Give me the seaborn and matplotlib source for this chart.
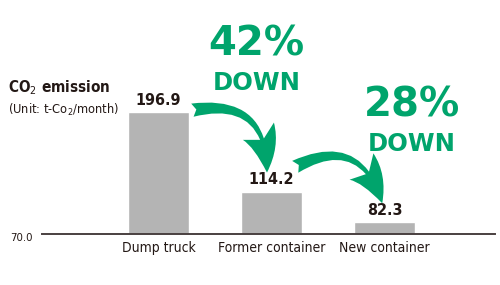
import matplotlib
matplotlib.use("Agg")
import matplotlib.pyplot as plt
import seaborn as sns
import pandas as pd
from matplotlib.patches import FancyArrowPatch

categories = ["Dump truck", "Former container", "New container"]
values = [196.9, 114.2, 82.3]
baseline = 70.0

sns.set_style("white")
plt.rcParams['font.family'] = ['DejaVu Sans']
plt.rcParams['font.stretch'] = 'condensed'

GREEN = "#00A46C"
BAR = "#B4B4B4"
TXT = "#231815"

df = pd.DataFrame({"cat": categories, "val": values})

fig = plt.figure(figsize=(5.0, 2.85), dpi=100)
ax = fig.add_axes([42/500, 51/285, 453/500, 234/285])
sns.barplot(data=df, x="cat", y="val", color=BAR, width=0.54, ax=ax,
            saturation=1)

ax.set_ylim(baseline, baseline + 234/0.96)
ax.set_xlim((42-158.5)/113, (495-158.5)/113)
for s in ["top", "right", "left"]:
    ax.spines[s].set_visible(False)
ax.spines["bottom"].set_color("#4a4040")
ax.spines["bottom"].set_linewidth(1.4)
ax.set_yticks([])
ax.set_xlabel("")
ax.set_ylabel("")
ax.tick_params(axis="x", length=0, pad=5, labelsize=10, colors=TXT)
for t in ax.get_xticklabels():
    t.set_fontstretch("condensed")

fig.text(10/500, 1-238/285, f"{baseline:.1f}", ha="left", va="center",
         fontsize=8.2, color=TXT, fontstretch="condensed")

# value labels
for i, v in enumerate(values):
    ax.annotate(f"{v:.1f}", (i, v), xytext=(0, 3), textcoords="offset points",
                ha="center", va="bottom", fontsize=11.5, fontweight="bold",
                color=TXT, fontstretch="condensed")

# axis title
fig.text(8/500, 1-88/285, "CO$_2$ emission", ha="left", va="center",
         fontsize=11, fontweight="bold", color=TXT, fontstretch="condensed")
fig.text(8/500, 1-110/285, "(Unit: t-Co$_2$/month)", ha="left", va="center",
         fontsize=9.2, color=TXT, fontstretch="condensed")

# arrows and reduction labels
arrow_specs = [
    ((0.30, 199), (0.96, 134), (0.87, 267, 227)),
    ((1.21, 140), (1.98, 102), (2.24, 204, 164)),
]
for i, (start, end, (tx, ty1, ty2)) in enumerate(arrow_specs):
    pct = round((1 - values[i+1] / values[i]) * 100)
    arr = FancyArrowPatch(start, end, transform=ax.transData,
                          connectionstyle="arc3,rad=-0.6",
                          arrowstyle="fancy,head_length=19,head_width=16,tail_width=6",
                          color=GREEN, mutation_scale=1.6, lw=0,
                          shrinkA=0, shrinkB=0)
    ax.add_patch(arr)
    ax.text(tx, ty1, f"{pct}%", ha="center", va="center", fontsize=29,
            fontweight="bold", color=GREEN, fontstretch="normal")
    ax.text(tx, ty2, "DOWN", ha="center", va="center", fontsize=17.5,
            fontweight="bold", color=GREEN, fontstretch="normal")

fig.savefig("out.png", dpi=100)
